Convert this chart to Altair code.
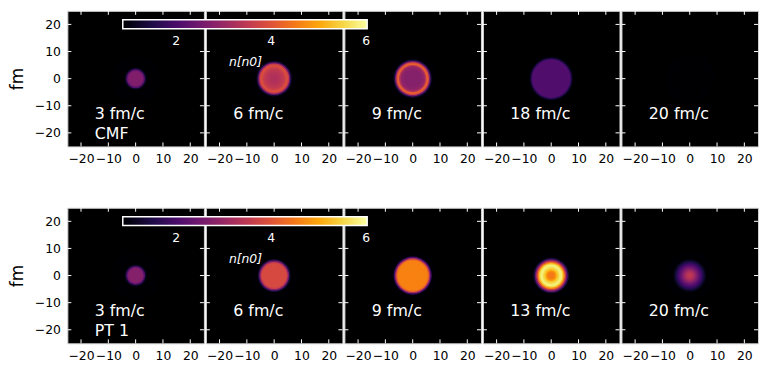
import altair as alt
import pandas as pd

FONT = "DejaVu Sans"

ROW_NAMES = ["CMF", "PT 1"]
TIMES = [
    ["3 fm/c", "6 fm/c", "9 fm/c", "18 fm/c", "20 fm/c"],
    ["3 fm/c", "6 fm/c", "9 fm/c", "13 fm/c", "20 fm/c"],
]
TICKS = [-20, -10, 0, 10, 20]
CBAR_TICKS = [2, 4, 6]
N_MIN, N_MAX = 0.875, 6.02

# outer radius (fm) of each ring of the radial density profile
RING_R = [0.5, 1.0, 1.5, 2.0, 2.5, 3.0, 3.5, 4.0, 4.5, 5.0,
          5.5, 6.0, 6.5, 7.0, 7.5, 8.0, 8.5, 9.0]

# density n [n0] per ring
CMF = [
    [2.7, 2.7, 2.7, 2.7, 2.7, 2.6, 2.1, 1.2, 0.5, 0, 0, 0, 0, 0, 0, 0, 0, 0],
    [3.3, 3.3, 3.3, 3.35, 3.4, 3.45, 3.5, 3.6, 3.8, 3.95, 3.6, 2.4, 1.3, 0.5, 0, 0, 0, 0],
    [2.75, 2.75, 2.75, 2.75, 2.75, 2.75, 2.8, 2.85, 2.95, 3.4, 4.2, 3.9, 2.6, 1.4, 0.6, 0, 0, 0],
    [2.1, 2.1, 2.1, 2.1, 2.1, 2.1, 2.1, 2.1, 2.1, 2.1, 2.1, 2.1, 2.1, 2.1, 1.7, 1.1, 0.5, 0],
    [0, 0, 0, 0, 0, 0, 0, 0, 0, 0, 0, 0, 0, 0, 0, 0, 0, 0],
]
PT1 = [
    [2.75, 2.75, 2.75, 2.75, 2.75, 2.65, 2.1, 1.2, 0.5, 0, 0, 0, 0, 0, 0, 0, 0, 0],
    [3.85, 3.85, 3.85, 3.85, 3.85, 3.85, 3.85, 3.85, 3.85, 3.6, 2.6, 1.4, 0.6, 0, 0, 0, 0, 0],
    [4.6, 4.6, 4.6, 4.6, 4.6, 4.6, 4.6, 4.6, 4.6, 4.6, 4.6, 4.3, 3.2, 1.8, 0.8, 0, 0, 0],
    [4.5, 4.5, 4.6, 4.9, 5.3, 5.5, 5.75, 5.8, 5.4, 4.6, 3.5, 2.4, 1.4, 0.7, 0, 0, 0, 0],
    [3.5, 3.45, 3.3, 3.1, 2.85, 2.6, 2.35, 2.1, 1.85, 1.6, 1.35, 1.1, 0.85, 0.6, 0, 0, 0, 0],
]
PROFILES = [CMF, PT1]

W, H = 138, 137
TL = 4  # tick length px

XS = alt.Scale(domain=[-25, 25], nice=False, zero=False)
YS = alt.Scale(domain=[-25, 25], nice=False, zero=False)
CS = alt.Scale(scheme="inferno", domain=[N_MIN, N_MAX], clamp=True)
# symbol size is the square of its diameter in px
SS = alt.Scale(type="pow", exponent=2, domain=[0, 25], range=[0, W * W], zero=True)

LEG = alt.Legend(
    orient="none", legendX=56, legendY=9, direction="horizontal",
    gradientLength=247, gradientThickness=9, values=CBAR_TICKS,
    labelColor="white", labelFontSize=12.5, labelFont=FONT, labelOffset=7,
    labelAlign="center",
    title="n[n0]", titleOrient="bottom", titleAnchor="middle",
    titleColor="white", titleFontStyle="italic", titleFontWeight="normal",
    titleFontSize=12.5, titleFont=FONT, titlePadding=8,
    gradientStrokeColor="white", gradientStrokeWidth=1.5, padding=0,
)


def x_axis():
    return alt.Axis(values=TICKS, ticks=False, domain=False, grid=False,
                    labelPadding=6, labelFontSize=12.5, labelFont=FONT,
                    labelColor="black", labelFlush=False, title=None)


def y_axis(show):
    if not show:
        return None
    return alt.Axis(values=TICKS, ticks=False, domain=False, grid=False,
                    labelPadding=7, labelFontSize=12.5, labelFont=FONT,
                    labelColor="black", labelFlush=False, title="fm",
                    titleFontSize=17, titleFont=FONT, titleFontWeight="normal",
                    titlePadding=8, titleColor="black")


def panel(row, col):
    prof = PROFILES[row][col]
    show_y = col == 0
    rings = pd.DataFrame({"r": RING_R, "n": prof, "cx": 0.0, "cy": 0.0})
    rings = rings.sort_values("r", ascending=False)
    disks = alt.Chart(rings).mark_point(
        filled=True, shape="circle", opacity=1, strokeWidth=0
    ).encode(
        x=alt.X("cx:Q", scale=XS, axis=x_axis()),
        y=alt.Y("cy:Q", scale=YS, axis=y_axis(show_y)),
        size=alt.Size("r:Q", scale=SS, legend=None),
        color=alt.Color("n:Q", scale=CS, legend=LEG),
    )
    tk = pd.DataFrame({"t": TICKS})
    xe = alt.X("t:Q", scale=XS, axis=x_axis())
    ye = alt.Y("t:Q", scale=YS, axis=y_axis(show_y))
    rule_style = dict(color="white", strokeWidth=1)
    bottom = alt.Chart(tk).mark_rule(**rule_style).encode(x=xe, y=alt.value(H), y2=alt.value(H - TL))
    top = alt.Chart(tk).mark_rule(**rule_style).encode(x=xe, y=alt.value(0), y2=alt.value(TL))
    left = alt.Chart(tk).mark_rule(**rule_style).encode(y=ye, x=alt.value(0), x2=alt.value(TL))
    right = alt.Chart(tk).mark_rule(**rule_style).encode(y=ye, x=alt.value(W), x2=alt.value(W - TL))

    labels = [TIMES[row][col]]
    lx = [-15]
    ly = [-13.2]
    if col == 0:
        labels.append(ROW_NAMES[row])
        lx.append(-15)
        ly.append(-20.3)
    txt_df = pd.DataFrame({"x": lx, "y": ly, "label": labels})
    txt = alt.Chart(txt_df).mark_text(
        align="left", baseline="middle", color="white", fontSize=16, font=FONT
    ).encode(
        x=alt.X("x:Q", scale=XS, axis=x_axis()),
        y=alt.Y("y:Q", scale=YS, axis=y_axis(show_y)),
        text="label:N",
    )
    return alt.layer(disks, bottom, top, left, right, txt).properties(width=W, height=H)


rows = [alt.hconcat(*[panel(r, c) for c in range(5)], spacing=0) for r in range(2)]

chart = alt.vconcat(*rows, spacing=42).resolve_scale(color="independent").properties(
    padding=0
).configure(font=FONT).configure_view(fill="black", stroke="#d0d0d0", strokeWidth=1)

chart.save("out.html", embed_options={"renderer": "svg", "actions": False})
